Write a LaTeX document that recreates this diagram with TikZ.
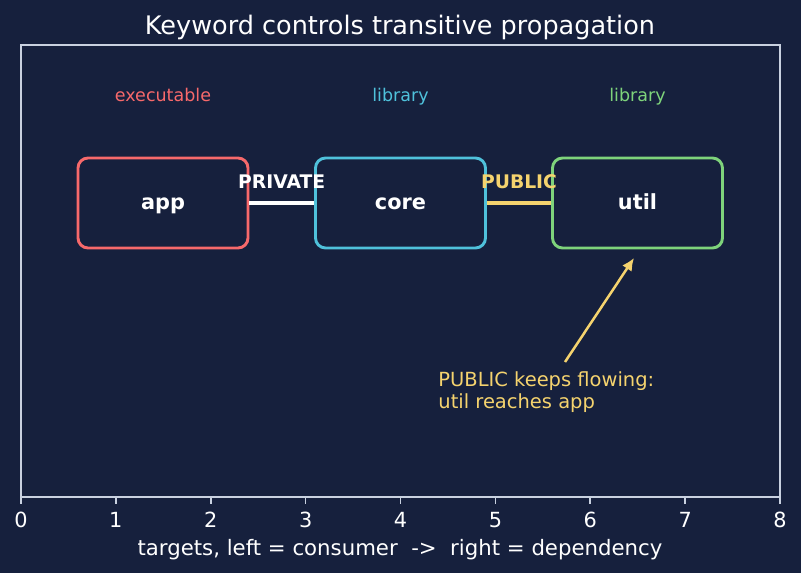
\documentclass[tikz,border=0pt]{standalone}
\usepackage{fontspec}
\setmainfont{DejaVu Sans}
\usetikzlibrary{arrows.meta, positioning}

\definecolor{bgnavy}{HTML}{16203D}
\definecolor{axisgray}{HTML}{C9D1E0}
\definecolor{execred}{HTML}{F7696B}
\definecolor{libcyan}{HTML}{4FC1DB}
\definecolor{libgreen}{HTML}{7ED37B}
\definecolor{kwyellow}{HTML}{F5D36E}

\tikzset{
  target/.style={draw=#1, line width=1.4pt, rounded corners=4.8pt,
    minimum width=81.6pt, minimum height=43.2pt, fill=bgnavy, text=white,
    text height=7.3pt, text depth=0.6pt,
    font=\fontsize{10}{12}\selectfont\bfseries},
  kind/.style={text=#1, inner sep=0pt, text height=6.2pt, text depth=1.6pt,
    font=\fontsize{8.4}{10}\selectfont},
  kwlabel/.style={inner sep=0pt, font=\fontsize{9}{11}\selectfont\bfseries},
  link/.style={line width=1.5pt},
  ticklabel/.style={text=white, inner sep=0pt, font=\fontsize{10}{12}\selectfont}
}

\begin{document}
\begin{tikzpicture}[x=0.48pt, y=-0.48pt]
  % Background
  \fill[bgnavy] (0,0) rectangle (801,573);
  \useasboundingbox (0,0) rectangle (801,573);
  \node[text=white, inner sep=0pt, font=\fontsize{12.25}{14}\selectfont] (title) at (400,27) {Keyword controls transitive propagation};
  % Axes frame and ticks
  \draw[axisgray, line width=0.8pt] (21,45) rectangle (780,497);
  \foreach \k in {0,...,8} {
    \draw[axisgray, line width=0.8pt] ({21+\k*94.875},497) -- ({21+\k*94.875},504);
    \node[ticklabel] (tick\k) at ({21+\k*94.875},520) {\k};
  }
  \node[ticklabel, font=\fontsize{10.2}{12}\selectfont] (xlabel) at (400,550) {targets, left = consumer\ \ ->\ \ right = dependency};
  % Targets
  \node[target=execred] (app) at (163,203) {app};
  \node[target=libcyan] (core) at (400.5,203) {core};
  \node[target=libgreen] (util) at (637.5,203) {util};
  \node[kind=execred] (appkind) at (163,97) {executable};
  \node[kind=libcyan] (corekind) at (400.5,97) {library};
  \node[kind=libgreen] (utilkind) at (637.5,97) {library};
  % Links
  \draw[link, white] (app) -- (core) node[kwlabel, text=white, midway, above=6.3pt] (private) {PRIVATE};
  \draw[link, kwyellow] (core) -- (util) node[kwlabel, text=kwyellow, midway, above=6.3pt] (public) {PUBLIC};
  % Annotation
  \coordinate (tail) at (565,362);
  \coordinate (tip) at (634,258);
  \draw[kwyellow, line width=1.2pt, -{Latex[length=6pt, width=5.5pt]}] (tail) -- (tip);
  \node[text=kwyellow, anchor=west, align=left, inner sep=0pt,
    font=\fontsize{9.35}{10.6}\selectfont] (note) at (438,392)
    {PUBLIC keeps flowing:\\util reaches app};
\end{tikzpicture}
\end{document}
